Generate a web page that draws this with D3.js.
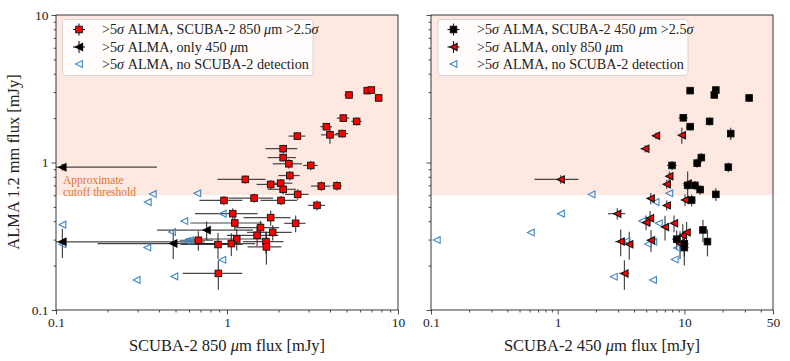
<!DOCTYPE html>
<html><head><meta charset="utf-8">
<script src="https://cdn.jsdelivr.net/npm/d3@7"></script>
<style>body{margin:0;background:#fff}svg{display:block}text{font-family:"Liberation Serif","DejaVu Serif",serif;fill:#222}</style>
</head><body><svg id="c" width="790" height="361"></svg>
<script>
// ---------- DATA ----------
// Left panel: SCUBA-2 850um flux vs ALMA 1.2mm flux
const redX    = [5.17,6.61,6.98,7.71,4.79,5.73,3.81,4.00,4.71,2.58,2.13,2.13,2.30,3.09,2.33,1.28,1.80,2.06,2.13,3.56,4.40,2.59,0.96,1.44,2.07,3.36,1.08,1.11,1.80,2.52,1.57,1.85,1.50,1.14,0.68,0.886,1.06,1.69,1.70,0.89];
const redXerr = [0.3,0.3,0.3,0.3,0.4,0.4,0.3,0.45,0.4,0.29,0.45,0.4,0.45,0.3,0.33,0.4,0.31,0.35,0.4,0.46,0.3,0.41,0.27,0.42,0.5,0.38,0.43,0.5,0.55,0.36,0.45,0.54,0.5,0.57,0.15,0.35,0.4,0.45,0.38,0.34];
const redY    = [2.87,3.07,3.10,2.74,2.00,1.90,1.75,1.54,1.57,1.51,1.24,1.08,0.98,0.955,0.816,0.768,0.710,0.724,0.658,0.692,0.696,0.608,0.553,0.574,0.553,0.512,0.450,0.389,0.423,0.387,0.362,0.336,0.321,0.303,0.297,0.278,0.282,0.291,0.268,0.177];
const redYerr = [0.15,0.15,0.15,0.15,0.12,0.12,0.1,0.2,0.1,0.08,0.08,0.07,0.07,0.07,0.06,0.05,0.05,0.05,0.05,0.05,0.05,0.05,0.04,0.04,0.04,0.04,0.04,0.04,0.05,0.05,0.04,0.04,0.05,0.05,0.045,0.055,0.05,0.05,0.065,0.04];

const only450X     = [0.109,0.109,0.485,0.76];
const only450XerrLo= [0.2,0.2,0.31,0.37];
const only450XerrHi= [0.28,0.63,0.6,0.66];
const only450Y     = [0.929,0.29,0.282,0.348];
const only450Yerr  = [0.05,0.065,0.06,0.05];

const noDetX850 = [0.109,0.109,0.368,0.344,0.67,0.944,0.563,0.477,0.342,0.581,0.608,0.939,0.296,0.492];
const noDetY850 = [0.379,0.279,0.611,0.539,0.618,0.45,0.401,0.338,0.265,0.294,0.297,0.219,0.160,0.169];

// Right panel: SCUBA-2 450um flux vs ALMA 1.2mm flux
const blkX    = [11.1,17.7,17.2,32.4,9.8,15.8,11.1,23.2,13.6,12.6,7.98,22.2,10.6,12.1,13.3,17.7,11.4,14.0,15.2,8.69,9.98,9.98];
const blkXerr = [0.8,1.0,1.0,1.5,0.8,1.0,0.8,1.2,0.9,0.9,0.7,1.2,0.8,0.9,0.9,1.0,0.8,0.8,0.9,0.7,0.8,0.8];
const blkY    = [3.07,3.10,2.87,2.74,2.01,1.90,1.75,1.57,1.08,0.99,0.955,0.93,0.70,0.70,0.655,0.608,0.556,0.349,0.291,0.302,0.281,0.265];
const blkYerr = [0.15,0.15,0.15,0.15,0.12,0.12,0.1,0.15,0.08,0.07,0.07,0.07,0.05,0.05,0.05,0.06,0.05,0.06,0.06,0.045,0.05,0.065];

const only850X    = [1.056,5.97,9.53,4.91,7.60,7.25,10.6,5.42,7.25,10.1,2.95,5.35,4.98,7.03,8.28,9.7,10.4,3.14,3.67,5.45,9.23,3.36];
const only850Xerr = [0.4,0.4,0.5,0.4,0.4,0.4,0.5,0.4,0.4,0.5,0.46,0.4,0.4,0.4,0.4,0.5,0.5,0.3,0.3,0.4,0.5,0.3];
const only850Y    = [0.768,1.52,1.53,1.24,0.808,0.713,0.72,0.571,0.512,0.556,0.45,0.419,0.392,0.366,0.387,0.321,0.336,0.291,0.279,0.297,0.282,0.177];
const only850Yerr = [0.05,0.08,0.19,0.07,0.06,0.05,0.15,0.05,0.04,0.05,0.04,0.05,0.045,0.07,0.05,0.06,0.06,0.06,0.06,0.05,0.06,0.04];

const noDetX450 = [1.85,7.59,5.92,1.06,0.613,0.111,4.64,6.28,3.49,5.16,5.68,8.74,8.38,2.77,5.65];
const noDetY450 = [0.608,0.618,0.539,0.45,0.335,0.298,0.401,0.387,0.294,0.28,0.29,0.263,0.22,0.168,0.160];

const threshold = 0.6;
const yTicks = [0.1,1,10];
const xTicksLeft = [0.1,1,10];
const xTicksRight = [0.1,1,10,50];
const legendLeft = ["850","only 450"];
const legendRight = ["450","only 850"];

// ---------- DRAW ----------
const svg = d3.select("#c");
const pTop=15, pBot=310;
const RED="#ff0000", BLUE="#3f87c6", SHADE="#fde9e1", ORANGE="#e2742e";
const ERR="#1a1a1a";
const FS_TICK=13.5, FS_AX=16.5, FS_LEG=14.2, FS_NOTE=11.5;

function minors(lo,hi){const a=[];for(let e=-2;e<3;e++)for(let m=2;m<10;m++){const v=m*Math.pow(10,e);if(v>lo*1.0001&&v<hi*0.9999)a.push(v);}return a;}

function panel(id,x0,x1,xmax,xTicks,xlab){
  const x=d3.scaleLog().domain([0.1,xmax]).range([x0,x1]);
  const y=d3.scaleLog().domain([0.1,10]).range([pBot,pTop]);
  const g=svg.append("g");
  g.append("defs").append("clipPath").attr("id","clip"+id).append("rect")
    .attr("x",x0).attr("y",pTop).attr("width",x1-x0).attr("height",pBot-pTop);
  g.append("rect").attr("x",x0).attr("y",y(10)).attr("width",x1-x0).attr("height",y(threshold)-y(10)).attr("fill",SHADE);
  const xa=g.append("g").attr("transform",`translate(0,${pBot})`);
  xa.call(d3.axisBottom(x).tickValues(minors(0.1,xmax)).tickSize(2.5).tickFormat(""));
  const xb=g.append("g").attr("transform",`translate(0,${pBot})`);
  xb.call(d3.axisBottom(x).tickValues(xTicks).tickSize(4.5).tickPadding(3).tickFormat(d=>String(d)));
  const ya=g.append("g").attr("transform",`translate(${x0},0)`);
  ya.call(d3.axisLeft(y).tickValues(minors(0.1,10)).tickSize(2.5).tickFormat(""));
  const yb=g.append("g").attr("transform",`translate(${x0},0)`);
  yb.call(d3.axisLeft(y).tickValues(yTicks).tickSize(4.5).tickPadding(3).tickFormat(id==="L"?(d=>String(d)):""));
  g.selectAll(".domain").remove();
  g.selectAll(".tick line").attr("stroke","#222").attr("stroke-width",0.8);
  g.selectAll(".tick text").attr("font-size",FS_TICK).attr("fill","#222").style("font-family",'"Liberation Serif",serif');
  g.append("rect").attr("x",x0).attr("y",pTop).attr("width",x1-x0).attr("height",pBot-pTop).attr("fill","none").attr("stroke","#222").attr("stroke-width",0.9);
  const xl=g.append("text").attr("x",(x0+x1)/2).attr("y",350.5).attr("text-anchor","middle").attr("font-size",FS_AX);
  xl.append("tspan").text(xlab);
  xl.append("tspan").attr("font-style","italic").text("μ");
  xl.append("tspan").text("m flux [mJy]");
  return {x,y,g,clip:"url(#clip"+id+")"};
}

function errbars(P,xs,xlo,xhi,ys,ye){
  const eg=P.g.append("g").attr("clip-path",P.clip).attr("stroke",ERR).attr("stroke-width",1.2).attr("stroke-opacity",0.8);
  xs.forEach((xv,i)=>{
    const l=xv-xlo[i]>0?P.x(xv-xlo[i]):P.x.range()[0]-20;
    eg.append("line").attr("x1",l).attr("x2",P.x(xv+xhi[i])).attr("y1",P.y(ys[i])).attr("y2",P.y(ys[i]));
    const b=ys[i]-ye[i]>0?P.y(ys[i]-ye[i]):pBot+20;
    eg.append("line").attr("x1",P.x(xv)).attr("x2",P.x(xv)).attr("y1",b).attr("y2",P.y(ys[i]+ye[i]));
  });
}
function sq(g,cx,cy,fill,s){g.append("rect").attr("x",cx-s/2).attr("y",cy-s/2).attr("width",s).attr("height",s).attr("fill",fill).attr("stroke","#111").attr("stroke-width",0.9);}
function tri(g,cx,cy,fill,stroke,r){g.append("path").attr("d",`M${cx-r},${cy}L${cx+r},${cy-r}L${cx+r},${cy+r}Z`).attr("fill",fill).attr("stroke",stroke).attr("stroke-width",1.1).attr("stroke-linejoin","miter");}

// Left panel
const L=panel("L",56,398,10,xTicksLeft,"SCUBA-2 850 ");
errbars(L,redX,redXerr,redXerr,redY,redYerr);
errbars(L,only450X,only450XerrLo,only450XerrHi,only450Y,only450Yerr);
const lm=L.g.append("g").attr("clip-path",L.clip);
noDetX850.forEach((v,i)=>tri(lm,L.x(v),L.y(noDetY850[i]),"none",BLUE,3.4));
only450X.forEach((v,i)=>tri(lm,L.x(v),L.y(only450Y[i]),"#000","#000",3.6));
redX.forEach((v,i)=>sq(lm,L.x(v),L.y(redY[i]),RED,6.6));
L.g.append("text").attr("x",63).attr("y",183.5).attr("font-size",FS_NOTE).style("fill",ORANGE).text("Approximate");
L.g.append("text").attr("x",63).attr("y",195.5).attr("font-size",FS_NOTE).style("fill",ORANGE).text("cutoff threshold");
svg.append("text").attr("transform","translate(19,162) rotate(-90)").attr("text-anchor","middle").attr("font-size",FS_AX).text("ALMA 1.2 mm flux [mJy]");

// Right panel
const R=panel("R",431,773,50,xTicksRight,"SCUBA-2 450 ");
errbars(R,only850X,only850Xerr,only850Xerr,only850Y,only850Yerr);
errbars(R,blkX,blkXerr,blkXerr,blkY,blkYerr);
const rm=R.g.append("g").attr("clip-path",R.clip);
noDetX450.forEach((v,i)=>tri(rm,R.x(v),R.y(noDetY450[i]),"none",BLUE,3.4));
only850X.forEach((v,i)=>tri(rm,R.x(v),R.y(only850Y[i]),RED,"#111",3.6));
blkX.forEach((v,i)=>sq(rm,R.x(v),R.y(blkY[i]),"#000",6.6));

// Legends
function legend(P,bx,bw,mx,tx,first,second,firstSquareFill,secondTriFill){
  const g=P.g.append("g");
  g.append("rect").attr("x",bx).attr("y",19.5).attr("width",bw).attr("height",56).attr("rx",3).attr("fill","#fff").attr("fill-opacity",0.85).attr("stroke","#d0d0d0").attr("stroke-width",0.9);
  const rows=[29.5,47,64];
  const cross=(cy)=>{g.append("line").attr("x1",mx-6).attr("x2",mx+6).attr("y1",cy).attr("y2",cy).attr("stroke",ERR).attr("stroke-width",1.1);
    g.append("line").attr("x1",mx).attr("x2",mx).attr("y1",cy-6).attr("y2",cy+6).attr("stroke",ERR).attr("stroke-width",1.1);};
  cross(rows[0]); sq(g,mx,rows[0],firstSquareFill,6.6);
  cross(rows[1]); tri(g,mx,rows[1],secondTriFill,secondTriFill==="#000"?"#000":"#111",3.6);
  tri(g,mx,rows[2],"none",BLUE,3.4);
  const t0=g.append("text").attr("x",tx).attr("y",rows[0]+4.5).attr("font-size",FS_LEG);
  t0.append("tspan").text(">5");t0.append("tspan").attr("font-style","italic").text("σ");
  t0.append("tspan").text(" ALMA, SCUBA-2 "+first+" ");t0.append("tspan").attr("font-style","italic").text("μ");
  t0.append("tspan").text("m >2.5");t0.append("tspan").attr("font-style","italic").text("σ");
  const t1=g.append("text").attr("x",tx).attr("y",rows[1]+4.5).attr("font-size",FS_LEG);
  t1.append("tspan").text(">5");t1.append("tspan").attr("font-style","italic").text("σ");
  t1.append("tspan").text(" ALMA, "+second+" ");t1.append("tspan").attr("font-style","italic").text("μ");
  t1.append("tspan").text("m");
  const t2=g.append("text").attr("x",tx).attr("y",rows[2]+4.5).attr("font-size",FS_LEG);
  t2.append("tspan").text(">5");t2.append("tspan").attr("font-style","italic").text("σ");
  t2.append("tspan").text(" ALMA, no SCUBA-2 detection");
}
legend(L,62.5,250.5,79,102,legendLeft[0],legendLeft[1],RED,"#000");
legend(R,438,250,453.5,477,legendRight[0],legendRight[1],"#000",RED);
</script></body></html>
